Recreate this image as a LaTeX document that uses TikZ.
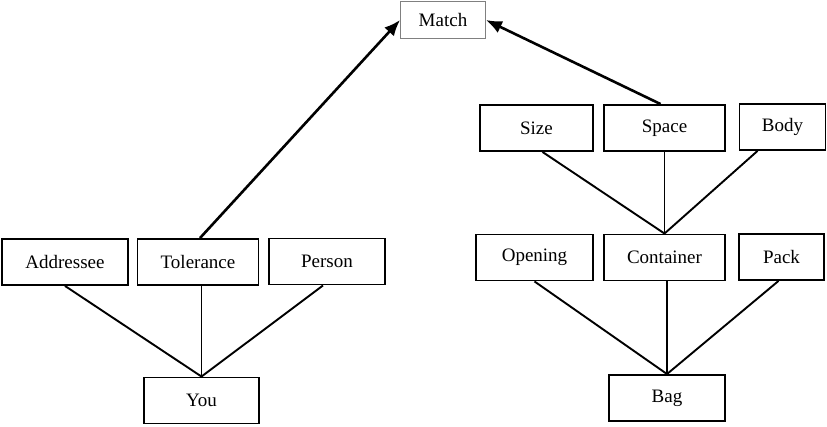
\documentclass[tikz,border=0pt]{standalone}
\usepackage{fontspec}
\setmainfont{Liberation Serif}
\usetikzlibrary{arrows.meta}

\tikzset{
  box/.style={draw, line width=1.9pt, minimum height=46pt, inner sep=0pt,
    font=\fontsize{19}{22}\selectfont},
  topbox/.style={draw=gray, line width=0.9pt, minimum height=37pt, inner sep=0pt,
    font=\fontsize{19}{22}\selectfont},
  link/.style={line width=1.9pt},
  arrow/.style={line width=2.6pt, -{Latex[length=16pt, width=13pt]}}
}

\begin{document}
\begin{tikzpicture}[x=10pt, y=10pt]
  \useasboundingbox (0, 0) rectangle (82.7, 42.6);
  % top
  \node[topbox, minimum width=85pt] (match) at (44.3, 40.6) {Match};
  % left tree
  \node[box, minimum width=126pt] (addressee) at (6.5, 16.4) {Addressee};
  \node[box, minimum width=121pt] (tolerance) at (19.8, 16.4) {Tolerance};
  \node[box, minimum width=116pt] (person) at (32.7, 16.45) {Person};
  \node[box, minimum width=115pt] (you) at (20.15, 2.55) {You};
  % right tree
  \node[box, minimum width=113pt] (size) at (53.65, 29.8) {Size};
  \node[box, minimum width=121pt] (space) at (66.45, 29.8) {Space};
  \node[box, minimum width=86pt] (body) at (78.25, 29.9) {Body};
  \node[box, minimum width=117pt] (opening) at (53.45, 16.85) {Opening};
  \node[box, minimum width=121pt] (container) at (66.45, 16.85) {Container};
  \node[box, minimum width=85pt] (pack) at (78.15, 16.9) {Pack};
  \node[box, minimum width=116pt] (bag) at (66.7, 2.8) {Bag};

  \draw[link] (addressee.south) -- (you.north);
  \draw[link] (you.north |- tolerance.south) -- (you.north);
  \draw[link] ([xshift=-4pt]person.south) -- (you.north);
  \draw[link] ([xshift=6pt]size.south) -- (container.north);
  \draw[link] (space.south) -- (container.north);
  \draw[link] ([xshift=-25pt]body.south) -- (container.north);
  \draw[link] (opening.south) -- (bag.north);
  \draw[link] (bag.north |- container.south) -- (bag.north);
  \draw[link] ([xshift=-3pt]pack.south) -- (bag.north);

  \draw[arrow] ([xshift=2pt]tolerance.north) -- (match.west);
  \draw[arrow] ([xshift=-4pt]space.north) -- (match.east);
\end{tikzpicture}
\end{document}
